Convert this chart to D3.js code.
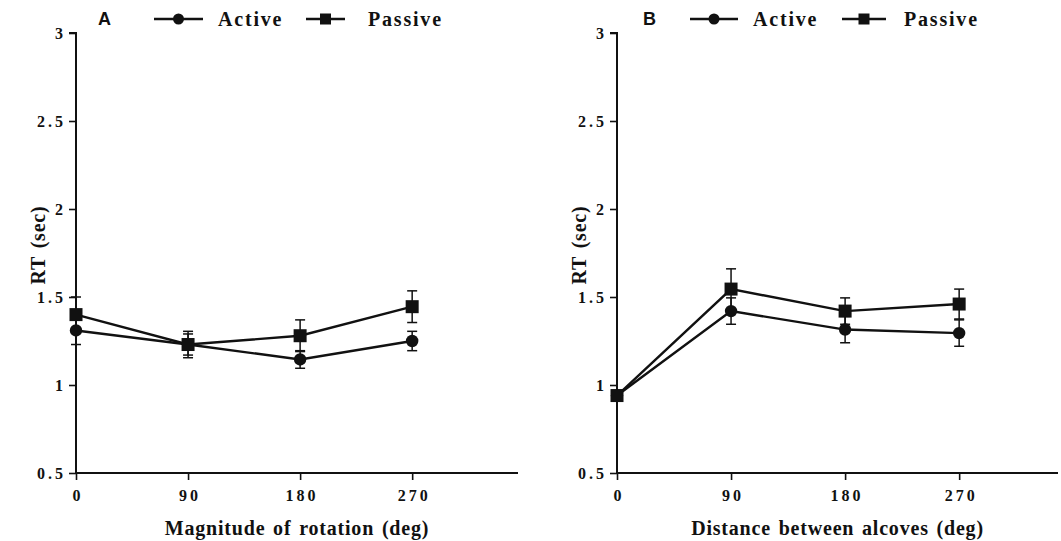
<!DOCTYPE html>
<html>
<head>
<meta charset="utf-8">
<script src="https://cdn.jsdelivr.net/npm/d3@7"></script>
<style>
  html, body { margin: 0; padding: 0; background: #fff; }
  svg { display: block; }
</style>
</head>
<body>
<svg id="chart" width="1061" height="541"></svg>
<script>
// Reaction times (sec) by angle, two tasks
const anglesA = [0, 90, 180, 270];
const activeA = [1.31, 1.23, 1.145, 1.25];
const activeErrA = [0.08, 0.06, 0.05, 0.055];
const passiveA = [1.40, 1.23, 1.28, 1.445];
const passiveErrA = [0.10, 0.075, 0.09, 0.09];

const anglesB = [0, 90, 180, 270];
const activeB = [0.94, 1.42, 1.315, 1.295];
const activeErrB = [0.02, 0.075, 0.075, 0.075];
const passiveB = [0.94, 1.545, 1.42, 1.46];
const passiveErrB = [0.02, 0.115, 0.075, 0.085];

const yTicks = [0.5, 1, 1.5, 2, 2.5, 3];
const yTickLabels = ["0.5", "1", "1.5", "2", "2.5", "3"];
const xTicks = [0, 90, 180, 270];
const seriesNames = ["Active", "Passive"];
const panelLetters = ["A", "B"];
const xTitles = ["Magnitude of rotation (deg)", "Distance between alcoves (deg)"];
const yTitle = "RT (sec)";

const ink = "#111";
const serif = "'Liberation Serif', 'Times New Roman', Times, serif";
const svg = d3.select("#chart");

const panels = [
  { letter: panelLetters[0], xTitle: xTitles[0], x0: 76, x1: 518, xMax: 355,
    angles: anglesA, active: activeA, activeErr: activeErrA, passive: passiveA, passiveErr: passiveErrA,
    leg: { letter: 98, line1: [154, 203], text1: 218, line2: [306, 345], text2: 368 } },
  { letter: panelLetters[1], xTitle: xTitles[1], x0: 617, x1: 1058, xMax: 348,
    angles: anglesB, active: activeB, activeErr: activeErrB, passive: passiveB, passiveErr: passiveErrB,
    leg: { letter: 643, line1: [690, 738], text1: 753, line2: [842, 886], text2: 904 } }
];

const y = d3.scaleLinear().domain([0.5, 3]).range([473, 33]);

function serifText(sel, size, spacing) {
  return sel.attr("font-family", serif).attr("font-weight", "bold")
    .attr("font-size", size).attr("letter-spacing", spacing).attr("fill", ink);
}

panels.forEach(p => {
  const x = d3.scaleLinear().domain([0, p.xMax]).range([p.x0, p.x1]);
  const g = svg.append("g");

  // y axis
  const yAxis = d3.axisLeft(y).tickValues(yTicks)
    .tickFormat((d, i) => yTickLabels[i]).tickSize(7).tickPadding(3);
  const ya = g.append("g").attr("transform", `translate(${p.x0},0)`).call(yAxis)
    .attr("font-family", null).attr("font-size", null);
  ya.select(".domain").attr("stroke", ink).attr("stroke-width", 2).attr("d", `M-7,${y(3)}H0V${y(0.5)}`);
  ya.selectAll(".tick line").attr("stroke", ink).attr("stroke-width", 1.6);
  serifText(ya.selectAll(".tick text"), 16, 3);

  // x axis
  const xAxis = d3.axisBottom(x).tickValues(xTicks).tickSize(7).tickPadding(10);
  const xa = g.append("g").attr("transform", `translate(0,${y(0.5)})`).call(xAxis)
    .attr("font-family", null).attr("font-size", null);
  xa.select(".domain").attr("stroke", ink).attr("stroke-width", 2).attr("d", `M${p.x0},0H${p.x1}`);
  xa.selectAll(".tick line").attr("stroke", ink).attr("stroke-width", 1.6);
  serifText(xa.selectAll(".tick text"), 16, 3).attr("dx", "1.5");

  // axis titles
  serifText(g.append("text"), 20, 0.8)
    .attr("x", (p.x0 + p.x1) / 2).attr("y", 535)
    .attr("text-anchor", "middle").attr("word-spacing", 2)
    .text(p.xTitle);
  serifText(g.append("text"), 20, 0.8)
    .attr("transform", `translate(${p.x0 - 31},245) rotate(-90)`)
    .attr("text-anchor", "middle").attr("word-spacing", 2)
    .text(yTitle);

  const series = [
    { vals: p.active, errs: p.activeErr, shape: "circle" },
    { vals: p.passive, errs: p.passiveErr, shape: "square" }
  ];

  const line = d3.line().x((d, i) => x(p.angles[i])).y(d => y(d));

  series.forEach(s => {
    // error bars
    const eb = g.append("g").attr("stroke", ink).attr("stroke-width", 1.5);
    s.vals.forEach((v, i) => {
      const cx = x(p.angles[i]);
      const lo = y(v - s.errs[i]), hi = y(v + s.errs[i]);
      eb.append("line").attr("x1", cx).attr("x2", cx).attr("y1", lo).attr("y2", hi);
      eb.append("line").attr("x1", cx - 5).attr("x2", cx + 5).attr("y1", lo).attr("y2", lo);
      eb.append("line").attr("x1", cx - 5).attr("x2", cx + 5).attr("y1", hi).attr("y2", hi);
    });
    g.append("path").datum(s.vals).attr("d", line)
      .attr("fill", "none").attr("stroke", ink).attr("stroke-width", 2.4);
  });

  series.forEach(s => {
    s.vals.forEach((v, i) => {
      const cx = x(p.angles[i]), cy = y(v);
      if (s.shape === "circle") {
        g.append("circle").attr("cx", cx).attr("cy", cy).attr("r", 6.2).attr("fill", ink);
      } else {
        g.append("rect").attr("x", cx - 6.5).attr("y", cy - 6.5).attr("width", 13).attr("height", 13).attr("fill", ink);
      }
    });
  });

  // panel letter and legend
  const L = p.leg, ly = 19;
  g.append("text").attr("x", L.letter).attr("y", 25)
    .attr("font-family", "'Liberation Sans', Arial, sans-serif").attr("font-weight", "bold")
    .attr("font-size", 18).attr("fill", ink).text(p.letter);

  g.append("line").attr("x1", L.line1[0]).attr("x2", L.line1[1]).attr("y1", ly).attr("y2", ly)
    .attr("stroke", ink).attr("stroke-width", 2.4);
  g.append("circle").attr("cx", (L.line1[0] + L.line1[1]) / 2).attr("cy", ly).attr("r", 5.5).attr("fill", ink);
  serifText(g.append("text"), 20, 1.8).attr("x", L.text1).attr("y", 26).text(seriesNames[0]);

  g.append("line").attr("x1", L.line2[0]).attr("x2", L.line2[1]).attr("y1", ly).attr("y2", ly)
    .attr("stroke", ink).attr("stroke-width", 2.4);
  const sqx = (L.line2[0] + L.line2[1]) / 2;
  g.append("rect").attr("x", sqx - 5.5).attr("y", ly - 5.5).attr("width", 11).attr("height", 11).attr("fill", ink);
  serifText(g.append("text"), 20, 1.8).attr("x", L.text2).attr("y", 26).text(seriesNames[1]);
});
</script>
</body>
</html>
